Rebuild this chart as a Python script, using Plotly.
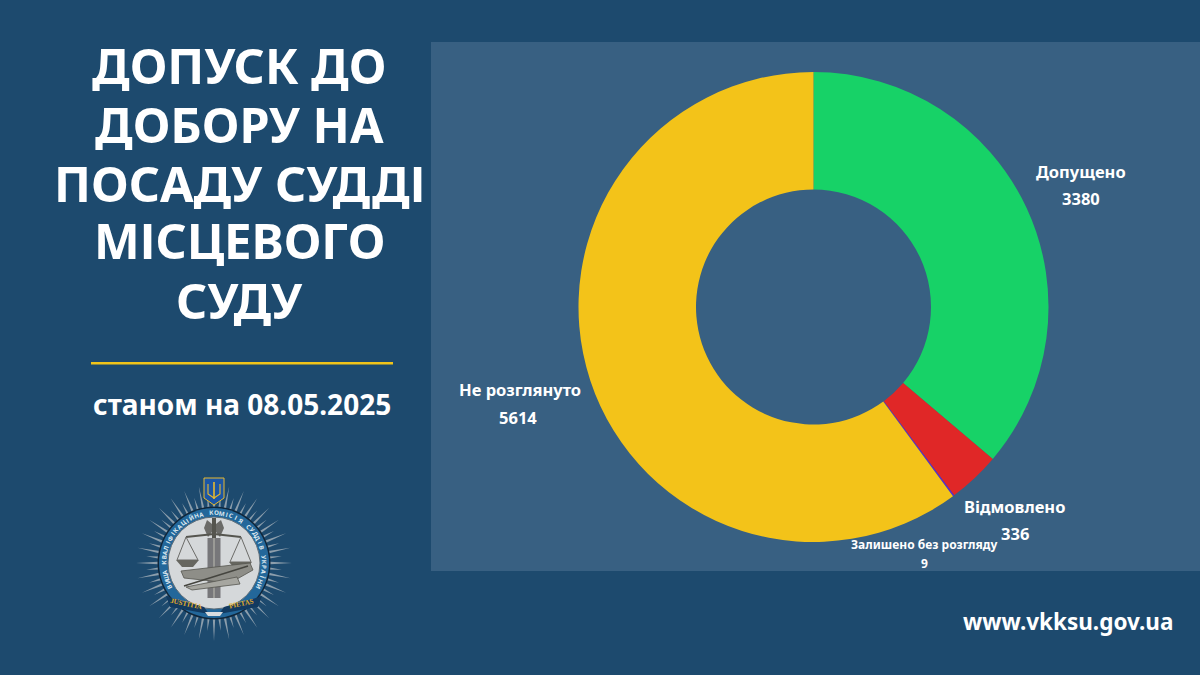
import math
import plotly.graph_objects as go

categories = ["Допущено", "Відмовлено", "Залишено без розгляду", "Не розглянуто"]
values = [3380, 336, 9, 5614]
slice_colors = ["#17D267", "#E02727", "#5B2BD0", "#F3C319"]
title_lines = ["ДОПУСК ДО", "ДОБОРУ НА", "ПОСАДУ СУДДІ", "МІСЦЕВОГО", "СУДУ"]
date_text = "станом на 08.05.2025"
site_text = "www.vkksu.gov.ua"
ring_text = "ВИЩА КВАЛІФІКАЦІЙНА КОМІСІЯ СУДДІВ УКРАЇНИ"

W, H = 1200, 675
BG = "#1D4A6E"
PANEL = "#386082"
FONT = "Noto Sans"


def X(p):
    return p / W


def Y(p):
    return 1 - p / H


def path(points, close=True):
    s = "M " + " L ".join(f"{X(a):.5f},{Y(b):.5f}" for a, b in points)
    return s + (" Z" if close else "")


shapes = []


def rect(x0, y0, x1, y1, fill):
    shapes.append(dict(type="rect", xref="paper", yref="paper", x0=X(x0), x1=X(x1),
                       y0=Y(y0), y1=Y(y1), fillcolor=fill, line_width=0, layer="below"))


def circle(cx, cy, r, fill, line=None, lw=0):
    shapes.append(dict(type="circle", xref="paper", yref="paper", x0=X(cx - r), x1=X(cx + r),
                       y0=Y(cy + r), y1=Y(cy - r), fillcolor=fill, layer="below",
                       line=dict(color=line or fill, width=lw)))


def poly(points, fill, line=None, lw=0):
    shapes.append(dict(type="path", xref="paper", yref="paper", path=path(points), layer="below",
                       fillcolor=fill, line=dict(color=line or fill, width=lw)))


def seg(points, color, lw=1.0):
    shapes.append(dict(type="path", xref="paper", yref="paper", path=path(points, False),
                       layer="below", line=dict(color=color, width=lw)))


annotations = []


def text(x, y, s, size, color="white", angle=0, bold=True, family=FONT, box=None):
    a = dict(xref="paper", yref="paper", x=X(x), y=Y(y), xanchor="center",
             yanchor="middle", showarrow=False, textangle=angle,
             text=f"<b>{s}</b>" if bold else s,
             font=dict(family=family, size=size, color=color))
    if box:
        a["height"] = box
    annotations.append(a)


# Background panel and rule
rect(431, 42, 1200, 571, PANEL)
rect(91, 362, 393, 364.5, "#F0C419")

# Headline text
title_y = [65, 124, 183, 240, 300]
for line, y in zip(title_lines, title_y):
    text(239, y, line, 48.5, box=52)
text(242, 404, date_text, 28)
text(1068, 621, site_text, 22.5)

# Slice labels
label_pos = [(1081, 171, 1081, 198, 16.5), (1014, 507, 1015, 533, 16.5),
             (924, 544, 924, 563, 12), (520, 390, 518, 417, 16.5)]
for name, val, (lx, ly, vx, vy, fs) in zip(categories, values, label_pos):
    text(lx, ly, name, fs)
    text(vx, vy, str(val), fs)

# Emblem
cx, cy = 214, 563
for i in range(64):
    a = 2 * math.pi * i / 64
    r1 = 78 if i % 2 == 0 else 68
    dx, dy = math.cos(a), math.sin(a)
    px, py = -dy, dx
    w = 1.4
    poly([(cx + 52 * dx + w * px, cy + 52 * dy + w * py),
          (cx + r1 * dx, cy + r1 * dy),
          (cx + 52 * dx - w * px, cy + 52 * dy - w * py)], "#8C9EAC")
circle(cx, cy, 56.5, "#10263A")
circle(cx, cy, 55, "#23679A")
circle(cx, cy, 46, "#D5D8DA", "#5D6C77", 1)
# ring lettering
n = len(ring_text)
for i, ch in enumerate(ring_text):
    ang = -118 + 236 * i / (n - 1)
    rad = math.radians(ang)
    text(cx + 50.5 * math.sin(rad), cy - 50.5 * math.cos(rad), ch, 6.2, "#DCE8F0", angle=ang)
# column and axe
rect(207.5, 538, 220.5, 598, "#77777A")
rect(213, 538, 215, 598, "#9A9A96")
poly([(207, 520), (204, 528), (208, 537), (212, 532), (212, 524)], "#6B6B68")
poly([(221, 520), (224, 528), (220, 537), (216, 532), (216, 524)], "#6B6B68")
rect(212, 518, 216, 538, "#55554F")
# scales
seg([(186, 537), (214, 534), (241, 537)], "#55554F", 2)
seg([(186, 537), (177, 560), (198, 560), (186, 537)], "#6B6B68", 1)
seg([(241, 537), (230, 562), (251, 562), (241, 537)], "#6B6B68", 1)
poly([(176, 560), (199, 560), (193, 567), (182, 567)], "#66665F")
poly([(229, 562), (252, 562), (246, 569), (235, 569)], "#66665F")
# scroll and quill
poly([(181, 571), (250, 563), (253, 570), (230, 583), (184, 578)], "#8E8E88", "#55554F", 0.8)
seg([(184, 586), (248, 566)], "#45453F", 1.5)
poly([(186, 587), (237, 577), (240, 584), (192, 590)], "#A6A6A0", "#55554F", 0.8)
# ribbon
poly([(166, 596), (172, 598), (204, 607), (209, 614), (170, 607)], "#123A60")
poly([(262, 596), (256, 598), (224, 607), (219, 614), (258, 607)], "#123A60")
poly([(205, 612), (223, 612), (220, 616), (208, 616)], "#D8DCDF")
text(186, 604, "JUSTITIA", 7, "#E3AE2C", angle=12, family="Liberation Serif")
text(241, 604, "PIETAS", 7, "#E3AE2C", angle=-12, family="Liberation Serif")
# shield
poly([(204, 478), (224, 478), (224, 498), (214, 505), (204, 498)], "#1C56A5", "#E8B92E", 1)
seg([(214, 482), (214, 499)], "#E8B92E", 1.6)
seg([(208, 484), (208, 494), (214, 498), (220, 494), (220, 484)], "#E8B92E", 1.1)

# Donut: centre (813.5, 307)
R = 235
fig = go.Figure(go.Pie(
    labels=categories, values=values, sort=False, direction="clockwise", rotation=0,
    hole=0.5, textinfo="none", showlegend=False,
    marker=dict(colors=slice_colors, line=dict(width=0)),
    domain=dict(x=[X(813.5 - R), X(813.5 + R)], y=[Y(307 + R), Y(307 - R)]),
))
fig.update_layout(
    width=W, height=H, margin=dict(l=0, r=0, t=0, b=0), autosize=False,
    paper_bgcolor=BG, plot_bgcolor=BG, shapes=shapes, annotations=annotations,
    font=dict(family=FONT),
)
fig.write_html("out.html", config=dict(displayModeBar=False),
               post_script="document.body.style.margin='0';document.body.style.background='#1D4A6E';")
